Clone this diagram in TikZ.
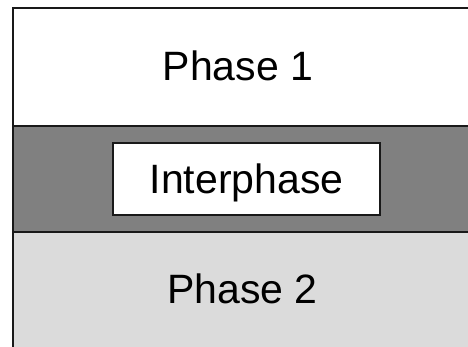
\documentclass[tikz,border=0pt]{standalone}
\usepackage{fontspec}
\setmainfont{Liberation Sans}
\begin{document}
\begin{tikzpicture}[x=1pt,y=-1pt,
  edge/.style={draw=black!90,line width=2pt},
  label/.style={font=\fontsize{41}{48}\selectfont,anchor=base,inner sep=0pt},
  interbox/.style={draw=black!90,line width=2pt,fill=white,minimum width=267pt,minimum height=72pt,inner sep=0pt,text height=29.4pt,text depth=0pt,font=\fontsize{41}{48}\selectfont}]
\useasboundingbox (0,0) rectangle (468,347);
\fill[white] (0,0) rectangle (468,347);
\fill[white] (12.5,8) rectangle (468,126);
\fill[gray] (12.5,126) rectangle (468,232);
\fill[black!14] (12.5,232) rectangle (468,347);
\coordinate (tl) at (12.5,8);
\coordinate (tr) at (468,8);
\coordinate (bl) at (12.5,347);
\coordinate (a1) at (12.5,126);
\coordinate (a2) at (468,126);
\coordinate (b1) at (12.5,232);
\coordinate (b2) at (468,232);
\draw[edge] (tr) -- (tl) -- (bl);
\draw[edge] (a1) -- (a2);
\draw[edge] (b1) -- (b2);
\node[label] (p1) at (238,81) {Phase 1};
\node[interbox] (ip) at (246.5,179) {Interphase};
\node[label] (p2) at (242.5,303) {Phase 2};
\end{tikzpicture}
\end{document}
